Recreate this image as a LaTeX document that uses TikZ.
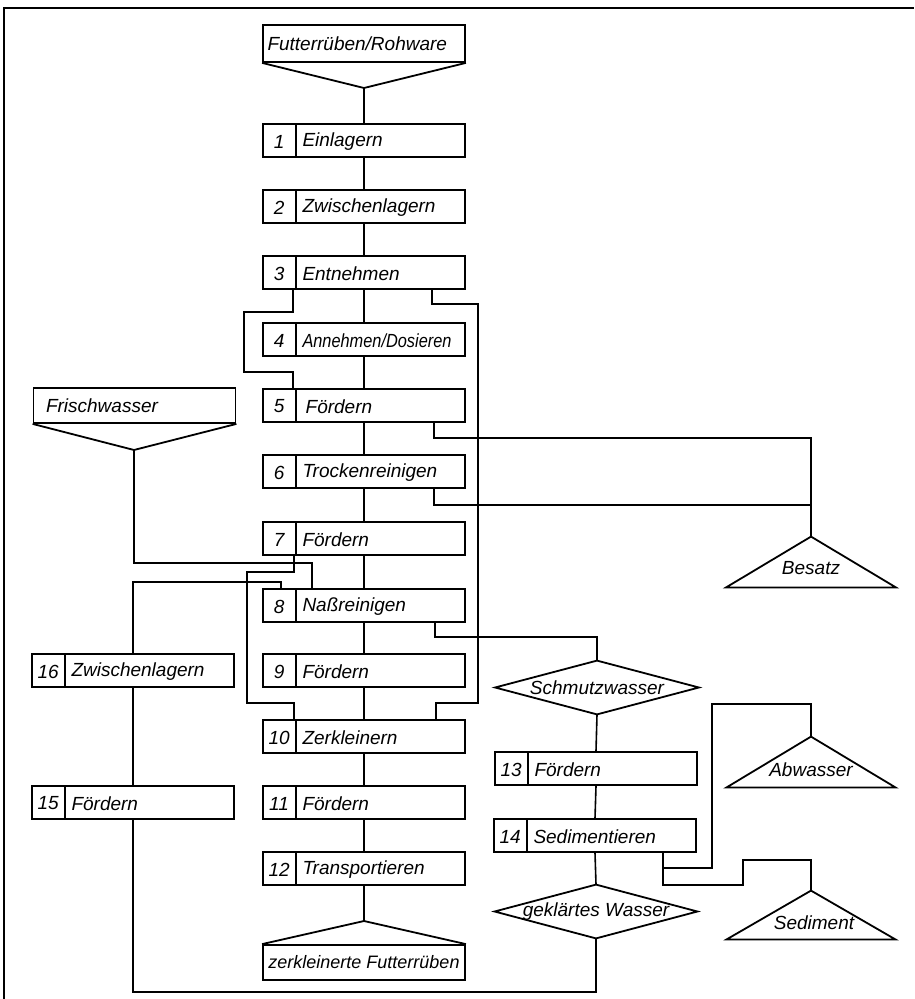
\documentclass[tikz,border=0pt]{standalone}
\usepackage{fontspec}
\usepackage{graphicx}
\setmainfont{Liberation Sans}
\usetikzlibrary{calc}
\tikzset{
  pbox/.style={draw, line width=0.9pt, minimum width=101pt, minimum height=16.5pt, inner sep=0pt},
  ghost/.style={inner sep=0pt, font=\fontsize{9.5}{11}\selectfont\itshape},
  txt/.style={inner sep=0pt, font=\fontsize{9.5}{11}\selectfont\itshape},
  labtxt/.style={txt, anchor=west},
  conn/.style={line width=0.8pt},
  outline/.style={line width=0.9pt, line join=miter}
}
\newcommand{\procbox}[5]{%
  \node[pbox] (#1) at (#2,#3) {};
  \node[txt] (#1n) at ($(#1.west)+(17,1)$) {#4};
  \node[labtxt] (#1t) at ($(#1.west)+(40,1)$) {#5};
  \draw[line width=0.8pt] ($(#1.north west)+(34,0)$) -- ($(#1.south west)+(34,0)$);
}
\begin{document}
\begin{tikzpicture}[x=0.5pt,y=-0.5pt]
\fill[white] (0,0) rectangle (914,999);
\useasboundingbox (0,0) rectangle (914,999);
% frame
\draw[line width=0.9pt] (4,999) -- (4,8) -- (914,8);

% input
\node[pbox, minimum height=18.5pt] (in) at (364,43.5) {};
\node[labtxt] (int) at ($(in.west)+(5,0)$) {Futterrüben/Rohware};
\coordinate (inA) at (364,88);
\draw[outline] (in.south west) -- (inA) -- (in.south east);

% main column
\procbox{b1}{364}{140.5}{1}{Einlagern}
\procbox{b2}{364}{206.5}{2}{Zwischenlagern}
\procbox{b3}{364}{272.5}{3}{Entnehmen}
\procbox{b4}{364}{339.5}{4}{\scalebox{0.86}[1]{Annehmen/Dosieren}}
\procbox{b5}{364}{405.5}{5}{\,Fördern}
\procbox{b6}{364}{471.5}{6}{Trockenreinigen}
\procbox{b7}{364}{538.5}{7}{Fördern}
\procbox{b8}{364}{605.5}{8}{Naßreinigen}
\procbox{b9}{364}{670.5}{9}{Fördern}
\procbox{b10}{364}{736.5}{10}{Zerkleinern}
\procbox{b11}{364}{802.5}{11}{Fördern}
\procbox{b12}{364}{868.5}{12}{Transportieren}

% output
\coordinate (outA) at (364,921);
\node[pbox, minimum height=17.5pt, font=\fontsize{9}{10}\selectfont\itshape] (out) at (364,962.5) {zerkleinerte Futterrüben};
\draw[outline] (out.north west) -- (outA) -- (out.north east);

% fresh water
\node[pbox, minimum height=17.5pt] (fw) at (134.5,405.5) {};
\node[labtxt] (fwt) at ($(fw.west)+(13,0)$) {Frischwasser};
\coordinate (fwA) at (134,450);
\draw[outline] (fw.south west) -- (fwA) -- (fw.south east);

% left column
\procbox{b16}{133}{670.5}{16}{Zwischenlagern}
\procbox{b15}{133}{802.5}{15}{Fördern}

% right column
\node[ghost, minimum width=101.5pt, minimum height=26.5pt] (sw) at (597,687.5) {Schmutzwasser};
\draw[outline] (sw.west) -- (sw.north) -- (sw.east) -- (sw.south) -- cycle;
\procbox{b13}{596}{768.5}{13}{Fördern}
\procbox{b14}{595}{835.5}{14}{Sedimentieren}
\node[ghost, minimum width=101pt, minimum height=26.5pt] (gw) at (596,911.5) {geklärtes Wasser};
\draw[outline] (gw.west) -- (gw.north) -- (gw.east) -- (gw.south) -- cycle;

% sinks
\node[ghost, minimum width=84.5pt, minimum height=25pt] (bes) at (811,562) {};
\draw[outline] (bes.south west) -- (bes.north) -- (bes.south east) -- cycle;
\node[txt] (bestxt) at ($(bes.south)+(0,-19)$) {Besatz};
\node[ghost, minimum width=84pt, minimum height=25pt] (abw) at (811,762) {};
\draw[outline] (abw.south west) -- (abw.north) -- (abw.south east) -- cycle;
\node[txt] (abwtxt) at ($(abw.south)+(0,-18)$) {Abwasser};
\node[ghost, minimum width=84pt, minimum height=24pt] (sed) at (811,915) {};
\draw[outline] (sed.south west) -- (sed.north) -- (sed.south east) -- cycle;
\node[txt] (sedtxt) at ($(sed.south)+(3,-17)$) {Sediment};

% main flow
\draw[conn] (inA) -- (b1.north);
\foreach \a/\b in {b1/b2,b2/b3,b3/b4,b4/b5,b5/b6,b6/b7,b7/b8,b8/b9,b9/b10,b10/b11,b11/b12}
  \draw[conn] (\a.south) -- (\b.north);
\draw[conn] (b12.south) -- (outA);

% bypass 3 -> 5 (left)
\draw[conn] ($(b3.south west)+(31,0)$) |- (244,312) -- (244,372) -| ($(b5.north west)+(31,0)$);
% bypass 3 -> 10 (right)
\draw[conn] ($(b3.south east)+(-34,0)$) |- (478,304) -- (478,703) -| ($(b10.north east)+(-30,0)$);
% bypass 7 -> 10 (left)
\draw[conn] ($(b7.south west)+(32,0)$) |- (247,572) -- (247,703) -| ($(b10.north west)+(32,0)$);
% fresh water -> 8
\draw[conn] (fwA) -- (134,563) -| ($(b8.north west)+(50,0)$);
% 16 -> 8
\draw[conn] (b16.north) -- (133,582) -| ($(b8.north west)+(19,0)$);
% left column
\draw[conn] (b16.south) -- (b15.north);
\draw[conn] (b15.south) -- (133,992) -| (gw.south);

% Besatz
\draw[conn] ($(b5.south east)+(-32,0)$) |- (811,438) -- (bes.north);
\draw[conn] ($(b6.south east)+(-32,0)$) |- (811,505);

% dirty water
\draw[conn] ($(b8.south east)+(-31,0)$) -- ++(0,14) -| (sw.north);
\draw[conn] (sw.south) -- (b13.north);
\draw[conn] (b13.south) -- (b14.north);
\draw[conn] (b14.south) -- (gw.north);

% Abwasser, Sediment
\draw[conn] ($(b14.south east)+(-34,0)$) |- (712,868) -- (712,704) -| (abw.north);
\draw[conn] ($(b14.south east)+(-34,0)$) |- (743,885) -- (743,860) -| (sed.north);
\end{tikzpicture}
\end{document}
